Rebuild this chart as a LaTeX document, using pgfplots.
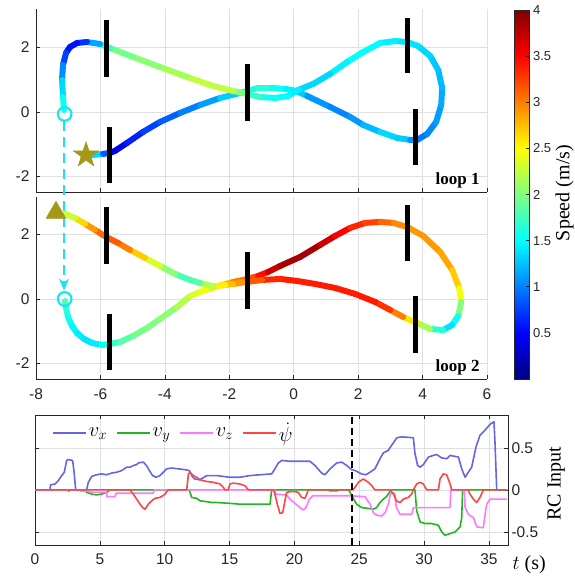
\RequirePackage{fix-cm}
\documentclass[border=0pt]{standalone}
\usepackage{fontspec}
\setmainfont{Liberation Serif}
\newfontfamily\arial{Liberation Sans}
\usepackage{pgfplots}
\pgfplotsset{compat=1.18}
\usetikzlibrary{arrows.meta}

\definecolor{axgray}{rgb}{0.15,0.15,0.15}
\definecolor{gridc}{rgb}{0.88,0.88,0.88}
\definecolor{olivec}{rgb}{0.63,0.60,0.09}
\definecolor{cyanm}{rgb}{0.1,0.9,0.95}
\definecolor{cvx}{rgb}{0.40,0.40,0.90}
\definecolor{cvy}{rgb}{0.12,0.72,0.12}
\definecolor{cvz}{rgb}{1.0,0.47,1.0}
\definecolor{cpsi}{rgb}{1.0,0.27,0.27}

\newcommand\tickfont{\arial\fontsize{15.5}{18}\selectfont}
\newcommand\cbfont{\arial\fontsize{13}{15}\selectfont}
\newcommand\labelfont{\fontsize{20}{24}\selectfont}

\pgfdeclareplotmark{fivestar}{%
 \pgfpathmoveto{\pgfpointpolar{90}{\pgfplotmarksize}}%
 \pgfpathlineto{\pgfpointpolar{126}{0.382\pgfplotmarksize}}%
 \pgfpathlineto{\pgfpointpolar{162}{\pgfplotmarksize}}%
 \pgfpathlineto{\pgfpointpolar{198}{0.382\pgfplotmarksize}}%
 \pgfpathlineto{\pgfpointpolar{234}{\pgfplotmarksize}}%
 \pgfpathlineto{\pgfpointpolar{270}{0.382\pgfplotmarksize}}%
 \pgfpathlineto{\pgfpointpolar{306}{\pgfplotmarksize}}%
 \pgfpathlineto{\pgfpointpolar{342}{0.382\pgfplotmarksize}}%
 \pgfpathlineto{\pgfpointpolar{18}{\pgfplotmarksize}}%
 \pgfpathlineto{\pgfpointpolar{54}{0.382\pgfplotmarksize}}%
 \pgfpathclose
 \pgfusepathqfillstroke}

\pgfplotsset{
 trajax/.style={scale only axis, width=451pt, xmin=-8, xmax=6,
  axis lines*=left, tick align=inside, major tick length=4pt,
  xtick={-8,-6,...,6}, ytick={-2,0,2}, yticklabels={-2,0,2},
  grid=major, major grid style={gridc, line width=0.6pt},
  axis line style={axgray, line width=0.6pt},
  tick style={axgray, line width=0.6pt},
  ticklabel style={font=\tickfont, text=axgray},
  yticklabel style={xshift=-3pt},
  colormap/jet, point meta min=0, point meta max=4, clip=false},
 traj/.style={mesh, point meta=explicit, line width=6pt, line cap=round, line join=round},
 gate/.style={black, line width=5pt, forget plot},
}

\pgfplotstableread{
x y s
-6.447 -1.331 1.4
-6.230 -1.331 1.5
-5.919 -1.300 1.2
-5.702 -1.269 0.5
-5.547 -1.207 0.3
-5.174 -0.960 0.55
-4.677 -0.619 0.7
-4.149 -0.310 0.8
-3.528 -0.031 0.95
-2.907 0.217 1.05
-2.286 0.433 1.2
-1.665 0.588 1.4
-1.447 0.650 1.5
-1.106 0.743 1.7
-0.671 0.743 1.6
-0.236 0.712 1.5
0.075 0.650 1.4
0.416 0.495 1.2
1.130 0.155 1.0
1.752 -0.155 1.05
2.155 -0.402 1.15
2.683 -0.619 1.3
3.211 -0.805 1.4
3.615 -0.867 1.2
3.832 -0.867 0.95
4.143 -0.681 1.0
4.422 -0.310 1.1
4.578 0.217 1.15
4.609 0.743 1.2
4.484 1.300 1.25
4.236 1.734 1.3
3.863 2.043 1.4
3.522 2.167 1.4
3.149 2.198 1.4
2.683 2.136 1.5
2.155 1.858 1.5
1.658 1.548 1.5
1.130 1.176 1.4
0.602 0.867 1.3
0.137 0.681 1.4
-0.174 0.495 1.5
-0.578 0.433 1.5
-1.043 0.464 1.6
-1.447 0.557 1.8
-1.882 0.650 2.2
-2.503 0.805 2.3
-3.311 1.084 2.2
-4.149 1.393 2.1
-4.988 1.703 2.0
-5.702 1.981 1.9
-6.012 2.105 1.5
-6.416 2.167 0.8
-6.727 2.136 0.6
-6.944 2.012 0.5
-7.068 1.827 0.6
-7.161 1.455 0.9
-7.193 0.991 1.2
-7.161 0.464 1.5
-7.130 0.062 1.6
}\loopone

\pgfplotstableread{
x y s
-7.099 -0.062 1.9
-7.068 -0.279 1.7
-7.006 -0.558 1.6
-6.882 -0.837 1.5
-6.727 -1.054 1.45
-6.509 -1.240 1.4
-6.261 -1.364 1.4
-5.950 -1.426 1.45
-5.702 -1.395 1.6
-5.391 -1.333 1.8
-4.988 -1.147 1.9
-4.553 -0.899 2.0
-4.149 -0.620 2.0
-3.621 -0.248 2.1
-3.217 0.093 2.3
-2.907 0.217 2.4
-2.534 0.341 2.5
-2.224 0.434 2.7
-1.882 0.527 2.9
-1.447 0.620 3.1
-1.106 0.713 3.3
-0.795 0.837 3.6
-0.422 1.023 3.8
0.199 1.302 3.9
0.820 1.674 3.8
1.286 1.953 3.6
1.752 2.202 3.4
2.217 2.357 3.3
2.683 2.388 3.2
3.087 2.357 3.0
3.522 2.233 2.9
4.019 1.953 2.9
4.547 1.457 2.9
4.919 0.899 2.8
5.137 0.341 2.6
5.199 -0.093 2.3
5.106 -0.527 1.7
4.919 -0.806 1.4
4.640 -0.961 1.4
4.236 -0.930 1.9
3.832 -0.744 2.4
3.398 -0.558 2.8
2.994 -0.341 3.2
2.528 -0.093 3.4
1.907 0.155 3.4
1.286 0.341 3.4
0.665 0.465 3.4
0.106 0.558 3.4
-0.422 0.620 3.4
-0.981 0.589 3.3
-1.447 0.527 3.0
-1.882 0.465 2.8
-2.130 0.434 2.7
-2.503 0.388 2.4
-2.907 0.496 2.0
-3.217 0.589 1.7
-3.683 0.775 1.9
-4.149 1.023 2.2
-4.615 1.271 2.5
-5.081 1.519 2.9
-5.453 1.736 3.1
-5.826 1.922 3.2
-6.168 2.140 3.0
-6.478 2.326 2.8
-6.789 2.512 2.5
-7.099 2.636 2.1
}\looptwo

\begin{document}
\begin{tikzpicture}
\useasboundingbox (0,0) rectangle (574pt,577pt);

% ---------- loop 1 ----------
\begin{axis}[trajax, at={(36pt,385pt)}, anchor=south west, height=183pt,
  ymin=-2.48, ymax=3.19, xticklabels={}]
\addplot[traj] table[x=x,y=y,meta=s] {\loopone};
\addplot[gate] coordinates {(-5.81,1.08) (-5.81,2.85)};
\addplot[gate] coordinates {(-5.72,-0.46) (-5.72,-2.2)};
\addplot[gate] coordinates {(-1.45,-0.28) (-1.45,1.49)};
\addplot[gate] coordinates {(3.54,1.21) (3.54,2.91)};
\addplot[gate] coordinates {(3.78,-1.64) (3.78,0.09)};
\addplot[only marks, mark=o, mark size=6.8pt, line width=2.2pt, color=cyanm, forget plot] coordinates {(-7.11,-0.062)};
\addplot[only marks, mark=fivestar, mark size=13.5pt, draw=olivec, fill=olivec, forget plot] coordinates {(-6.447,-1.337)};
\node[anchor=base east, font=\bfseries\fontsize{17}{20}\selectfont] at (axis cs:5.88,-2.26) {loop 1};
\end{axis}

% ---------- loop 2 ----------
\begin{axis}[trajax, at={(36pt,198pt)}, anchor=south west, height=182pt,
  ymin=-2.48, ymax=3.16,
  xticklabels={-8,-6,-4,-2,0,2,4,6}, xticklabel style={yshift=-6pt},
  colorbar,
  colorbar style={at={(parent axis.south east)}, anchor=south west, xshift=19pt,
    width=15pt, height=369pt,
    ytick={0.5,1,...,4}, yticklabels={0.5,1,1.5,2,2.5,3,3.5,4},
    yticklabel style={font=\cbfont, text=axgray},
    ytick pos=right, yticklabel pos=right,
    tick align=inside, major tick length=4pt,
    tick style={axgray, line width=0.6pt},
    axis line style={axgray, line width=0.6pt},
    ylabel={Speed (m/s)},
    ylabel style={font=\labelfont, at={(axis description cs:3.33,0.504)}, anchor=center}}]
\addplot[traj] table[x=x,y=y,meta=s] {\looptwo};
\addplot[gate] coordinates {(-5.81,1.08) (-5.81,2.85)};
\addplot[gate] coordinates {(-5.72,-0.46) (-5.72,-2.2)};
\addplot[gate] coordinates {(-1.45,-0.3) (-1.45,1.47)};
\addplot[gate] coordinates {(3.54,1.17) (3.54,2.91)};
\addplot[gate] coordinates {(3.78,-1.66) (3.78,0.09)};
\addplot[only marks, mark=o, mark size=6.8pt, line width=2.2pt, color=cyanm, forget plot] coordinates {(-7.11,0)};
\addplot[cyanm, line width=2.4pt, dash pattern=on 10pt off 6pt, -{Stealth[length=12pt,width=10pt]}, forget plot] coordinates {(-7.13,5.5) (-7.13,0.26)};
\addplot[only marks, mark=triangle*, mark size=11.5pt, draw=olivec, fill=olivec, forget plot] coordinates {(-7.38,2.676)};
\node[anchor=base east, font=\bfseries\fontsize{17}{20}\selectfont] at (axis cs:5.88,-2.26) {loop 2};
\end{axis}

% ---------- RC input ----------
\begin{axis}[at={(35pt,32pt)}, anchor=south west, scale only axis,
  width=473pt, height=130pt,
  xmin=0, xmax=36.47, ymin=-0.655, ymax=0.89,
  xtick={0,5,...,35}, xticklabels={0,5,10,15,20,25,30,35},
  ytick={-0.5,0,0.5}, yticklabels={-0.5,0,0.5},
  xtick pos=both, xticklabel pos=lower, ytick pos=both, yticklabel pos=right,
  tick align=inside, major tick length=4pt,
  grid=major, major grid style={gridc, line width=0.6pt},
  axis line style={axgray, line width=0.6pt},
  tick style={axgray, line width=0.6pt},
  ticklabel style={font=\tickfont, text=axgray},
  xticklabel style={yshift=-5pt},
  ylabel={RC Input},
  ylabel style={font=\labelfont, at={(axis description cs:1.1015,0.473)}, anchor=center},
  clip=false,
  legend style={at={(0.036,0.862)}, anchor=west, draw=none, fill=none,
    inner sep=0pt, font=\fontsize{20.5}{23}\selectfont,
    /tikz/every even column/.append style={column sep=7pt}},
  legend columns=4,
  legend image code/.code={\draw[#1] (0pt,0pt) -- (33pt,0pt);},
  every axis plot/.append style={line width=1.6pt, line join=round}]
\addplot[cvx] coordinates {(0,0) (1.15,0) (1.2,0.06) (1.54,0.07) (1.8,0.11) (2.06,0.17) (2.26,0.21) (2.44,0.35) (2.57,0.36) (2.9,0.35) (3.0,0.23) (3.14,0) (3.98,0) (4.11,0.09) (4.37,0.16) (4.76,0.18) (5.14,0.19) (5.53,0.18) (5.91,0.2) (6.3,0.21) (6.68,0.23) (7.07,0.27) (7.33,0.27) (7.58,0.29) (7.84,0.30) (7.97,0.32) (8.35,0.33) (8.6,0.29) (8.82,0.23) (9.07,0.17) (9.33,0.15) (9.64,0.17) (9.9,0.21) (10.15,0.25) (10.54,0.26) (11.05,0.25) (11.57,0.24) (11.9,0.23) (12.08,0.17) (12.3,0.13) (12.7,0.12) (13.24,0.17) (14.0,0.17) (14.52,0.16) (15.03,0.15) (15.8,0.15) (16.57,0.17) (17.35,0.18) (18.25,0.19) (18.5,0.25) (18.76,0.32) (19.02,0.35) (19.66,0.34) (20.43,0.34) (21.2,0.34) (21.59,0.29) (22.1,0.20) (22.36,0.18) (22.75,0.25) (23.26,0.32) (23.65,0.33) (24.03,0.29) (24.42,0.24) (24.67,0.23) (25.18,0.19) (25.52,0.18) (25.83,0.21) (26.21,0.25) (26.6,0.37) (26.86,0.44) (27.24,0.47) (27.5,0.53) (27.9,0.62) (28.27,0.63) (29.17,0.62) (29.3,0.43) (29.5,0.29) (29.69,0.27) (29.94,0.30) (30.33,0.39) (30.71,0.41) (30.97,0.42) (31.36,0.38) (31.74,0.37) (32.0,0.41) (32.65,0.39) (32.9,0.25) (33.16,0.15) (33.41,0.21) (33.67,0.27) (34.0,0.51) (34.31,0.65) (34.7,0.71) (35.09,0.78) (35.39,0.81) (35.47,0.55) (35.6,0) (36.4,0)};
\addplot[cvy] coordinates {(0,0) (3.86,0) (3.98,-0.03) (4.37,-0.05) (4.76,-0.06) (5.14,-0.05) (5.53,-0.03) (5.78,0) (11.9,0) (12.08,-0.09) (12.47,-0.10) (12.72,-0.13) (13.24,-0.14) (13.62,-0.15) (14.0,-0.15) (15.03,-0.16) (15.8,-0.17) (17.09,-0.17) (18.12,-0.17) (18.25,0) (22.6,0) (22.7,-0.01) (23.3,-0.01) (23.4,0) (24.2,0) (24.25,-0.02) (24.5,-0.09) (24.8,-0.17) (25.18,-0.21) (25.7,-0.22) (26.08,-0.23) (26.34,-0.21) (26.6,-0.15) (26.86,-0.11) (27.1,-0.08) (27.37,-0.02) (27.5,0) (29.3,0) (29.43,-0.25) (29.69,-0.38) (30.07,-0.40) (30.58,-0.40) (31.1,-0.42) (31.36,-0.50) (31.61,-0.54) (32.0,-0.52) (32.39,-0.50) (32.77,-0.44) (32.9,-0.33) (32.97,0) (36.4,0)};
\addplot[cvz] coordinates {(0,0) (3.5,0) (3.55,-0.015) (4.24,-0.015) (4.3,-0.03) (5.5,-0.03) (5.55,-0.08) (6.17,-0.08) (6.25,-0.04) (9.1,-0.04) (9.2,0) (18.5,0) (18.57,-0.05) (19.4,-0.06) (19.66,-0.11) (20.05,-0.16) (20.43,-0.21) (20.69,-0.24) (20.9,-0.21) (21.15,-0.11) (21.41,-0.07) (24.29,-0.07) (25.44,-0.08) (25.83,-0.17) (26.08,-0.27) (26.34,-0.30) (26.73,-0.31) (26.99,-0.27) (27.24,-0.17) (27.4,-0.05) (27.6,-0.03) (27.75,-0.05) (27.85,-0.2) (28.14,-0.29) (29.04,-0.29) (29.17,-0.21) (32.0,-0.21) (32.06,0) (33.1,0) (33.16,-0.21) (33.41,-0.29) (33.8,-0.33) (34.06,-0.44) (34.57,-0.45) (34.7,-0.29) (34.83,-0.17) (35.09,-0.11) (36.4,-0.11)};
\addplot[cpsi] coordinates {(0,0) (2.55,0) (2.6,-0.015) (2.65,0) (7.33,0) (7.58,-0.05) (7.84,-0.11) (8.1,-0.17) (8.3,-0.21) (8.48,-0.23) (8.74,-0.17) (9.0,-0.13) (9.25,-0.10) (9.64,-0.09) (10.03,-0.05) (10.15,-0.02) (10.28,0) (11.7,0) (11.83,0.19) (11.95,0.21) (12.2,0.17) (12.47,0.15) (12.72,0.12) (13.24,0.10) (13.75,0.09) (14.26,0.07) (14.52,0.03) (14.65,0) (14.9,0) (15.03,0.07) (15.29,0.08) (15.8,0.07) (16.19,0.05) (16.45,0) (18.4,0) (18.5,-0.05) (18.68,-0.17) (18.89,-0.28) (19.1,-0.27) (19.27,-0.13) (19.4,-0.03) (19.66,-0.02) (20.05,-0.02) (20.3,-0.03) (20.56,-0.09) (20.82,-0.10) (20.95,-0.05) (21.07,0) (24.5,0) (24.67,0.03) (24.93,0.09) (25.31,0.13) (25.7,0.09) (25.96,0.05) (26.21,0) (27.37,0) (27.63,-0.05) (27.88,-0.13) (28.14,-0.15) (28.4,-0.11) (28.78,-0.09) (29.04,-0.05) (29.17,0) (29.43,0.07) (29.69,0.09) (29.94,0.07) (30.2,0) (31.1,0) (31.23,0.13) (31.48,0.19) (31.74,0.18) (32.0,0.07) (32.13,0) (33.4,0) (33.54,-0.05) (33.8,-0.11) (34.06,-0.15) (34.31,-0.09) (34.57,0) (36.4,0)};
\addplot[black, line width=2pt, dash pattern=on 7pt off 4pt, forget plot] coordinates {(24.47,-0.655) (24.47,0.89)};
\legend{$v_x$,$v_y$,$v_z$,$\dot{\psi}$}
\node[anchor=base west, font=\labelfont] at (axis cs:36.55,-0.952) {$t$ (s)};
\end{axis}
\end{tikzpicture}
\end{document}
